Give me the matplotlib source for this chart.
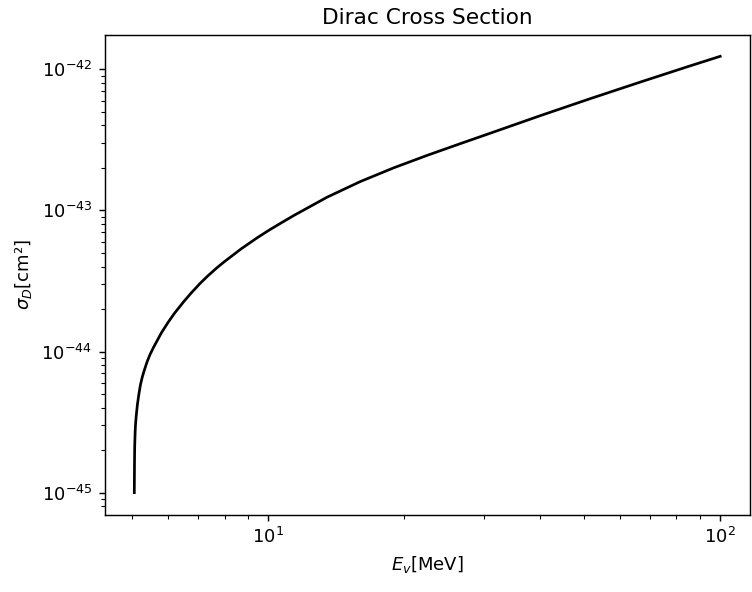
import matplotlib
matplotlib.use("Agg")
import matplotlib.pyplot as plt

# Neutrino energy [MeV] and Dirac cross section (units of 1e-45 cm^2)
energy_mev = [5.05, 5.055, 5.06, 5.07, 5.08, 5.10, 5.13, 5.17, 5.21, 5.26,
              5.32, 5.39, 5.47, 5.57, 5.80, 6.00, 6.20, 6.50, 6.75, 7.07,
              7.35, 7.70, 8.00, 8.70, 9.45, 10.0, 10.55, 11.4, 13.49, 15.98,
              18.93, 22.44, 26.6, 30.98, 40.0, 51.6, 66.5, 85.8, 100.0]
sigma_1e45 = [1.0, 1.6, 2.1, 2.6, 3.0, 3.5, 4.2, 5.0, 5.8, 6.6,
              7.45, 8.45, 9.5, 10.7, 13.6, 16.1, 18.7, 22.6, 26.0, 30.5,
              34.4, 39.3, 43.4, 53.3, 64.0, 71.9, 79.7, 92.2, 124, 160,
              200, 245, 297, 352, 469, 619, 810, 1056, 1234]
sigma_cm2 = [s * 1e-45 for s in sigma_1e45]

DPI = 130
W, H = 752, 592
fig = plt.figure(figsize=(W / DPI, H / DPI), dpi=DPI)
left, right, top, bottom = 105, 749.5, 34.5, 514.5
ax = fig.add_axes([left / W, 1 - bottom / H, (right - left) / W, (bottom - top) / H])
ax.plot(energy_mev, sigma_cm2, color="black", linewidth=1.5)
ax.set_xscale("log")
ax.set_yscale("log")
ax.set_title("Dirac Cross Section")
ax.set_xlabel(r"$E_v$[MeV]")
ax.set_ylabel(r"$\sigma_D$[cm²]")
fig.savefig("out.png", dpi=DPI)
